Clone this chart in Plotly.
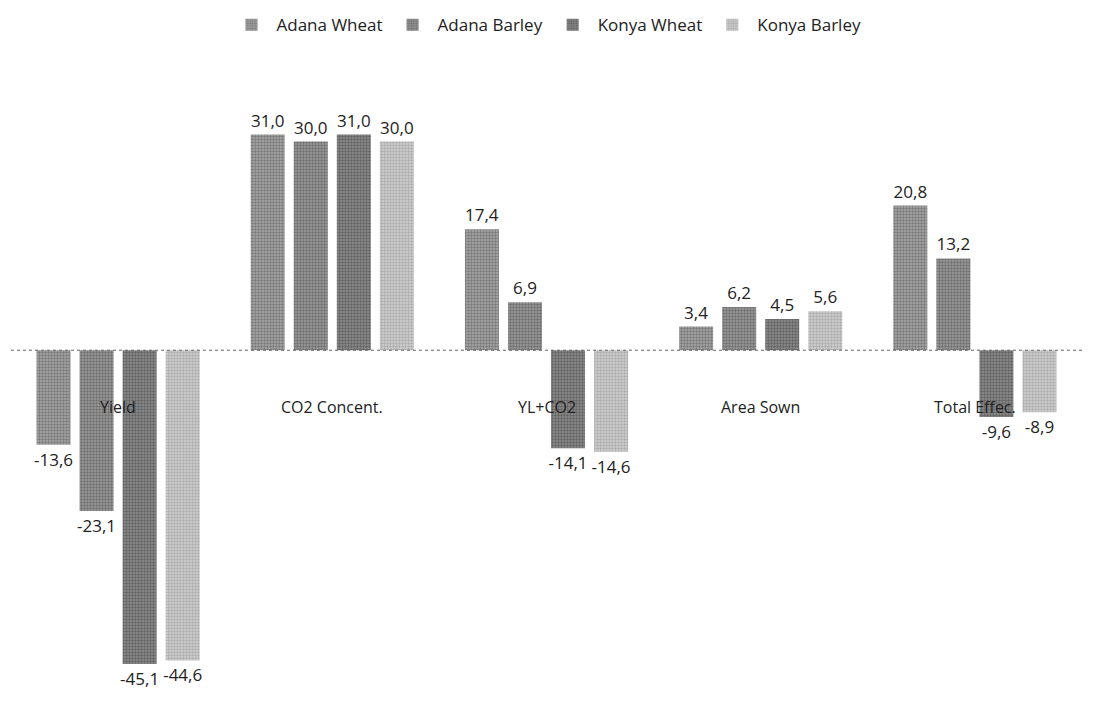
import plotly.graph_objects as go

categories = ["Yield", "CO2 Concent.", "YL+CO2", "Area Sown", "Total Effec."]
series_names = ["Adana Wheat", "Adana Barley", "Konya Wheat", "Konya Barley"]
adana_wheat = [-13.6, 31.0, 17.4, 3.4, 20.8]
adana_barley = [-23.1, 30.0, 6.9, 6.2, 13.2]
konya_wheat = [-45.1, 31.0, -14.1, 4.5, -9.6]
konya_barley = [-44.6, 30.0, -14.6, 5.6, -8.9]

series_values = [adana_wheat, adana_barley, konya_wheat, konya_barley]
fg_colors = ["#4a4a4a", "#424242", "#363636", "#8a8a8a"]
bg_colors = ["#a8a8a8", "#9c9c9c", "#8e8e8e", "#d0d0d0"]

FONT = "Open Sans"

fig = go.Figure()
for name, vals, fg, bg in zip(series_names, series_values, fg_colors, bg_colors):
    fig.add_trace(go.Bar(
        name=name,
        x=categories,
        y=vals,
        text=[f"{v:.1f}".replace(".", ",") for v in vals],
        textposition="outside",
        constraintext="none",
        cliponaxis=False,
        textfont=dict(family=FONT, size=17, color="#222222"),
        marker=dict(
            color=bg,
            line=dict(width=0),
            pattern=dict(shape=".", fgcolor=fg, bgcolor=bg, size=3, solidity=0.5),
        ),
    ))

for c in categories:
    fig.add_annotation(x=c, y=0, text=c, showarrow=False, yshift=-57,
                       font=dict(family=FONT, size=16, color="#222222"))

fig.add_shape(type="line", xref="paper", x0=0, x1=1, yref="y", y0=0, y1=0,
              line=dict(color="#666666", width=1, dash="dot"))

fig.update_layout(
    width=1097, height=720,
    margin=dict(l=11, r=15, t=72, b=22),
    paper_bgcolor="white", plot_bgcolor="white",
    barmode="group", bargap=0.196, bargroupgap=0.21,
    legend=dict(orientation="h", x=0.5, xanchor="center", y=0.99, yref="container",
                yanchor="top", font=dict(family=FONT, size=17, color="#222222"),
                itemwidth=40, traceorder="normal"),
    xaxis=dict(showticklabels=False, showgrid=False, zeroline=False, showline=False, ticks=""),
    yaxis=dict(range=[-50, 40], showticklabels=False, showgrid=False, zeroline=False,
               showline=False, ticks=""),
    showlegend=True,
)

fig.write_html("out.html")
